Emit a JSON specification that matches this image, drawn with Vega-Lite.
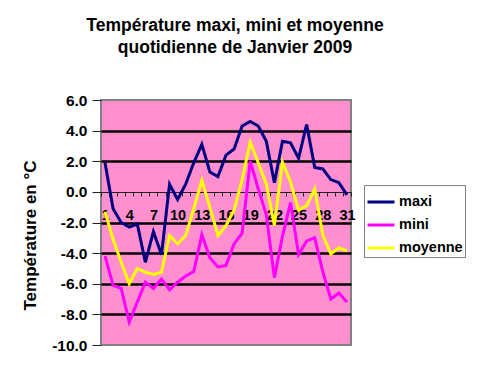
{
  "$schema": "https://vega.github.io/schema/vega-lite/v6.json",
  "width": 250,
  "height": 245,
  "autosize": {"type": "none"},
  "padding": {"left": 101, "top": 100, "right": 133, "bottom": 30},
  "background": "white",
  "title": {
    "text": ["Température maxi, mini et moyenne", "quotidienne de Janvier 2009"],
    "fontSize": 17.5,
    "fontWeight": "bold",
    "font": "Liberation Sans",
    "color": "black",
    "lineHeight": 22,
    "anchor": "middle",
    "dx": 9,
    "offset": 37
  },
  "config": {
    "font": "Liberation Sans",
    "view": {"fill": "#FF8FCF", "stroke": "#808080", "strokeWidth": 2}
  },
  "data": {
    "values": [
      {"day": 1, "maxi": 1.9, "mini": -4.2, "moyenne": -1.3},
      {"day": 2, "maxi": -1.1, "mini": -6.1, "moyenne": -3.1},
      {"day": 3, "maxi": -2.0, "mini": -6.3, "moyenne": -4.6},
      {"day": 4, "maxi": -2.3, "mini": -8.5, "moyenne": -6.0},
      {"day": 5, "maxi": -2.1, "mini": -7.2, "moyenne": -5.0},
      {"day": 6, "maxi": -4.6, "mini": -5.9, "moyenne": -5.25},
      {"day": 7, "maxi": -2.6, "mini": -6.3, "moyenne": -5.4},
      {"day": 8, "maxi": -4.1, "mini": -5.7, "moyenne": -5.25},
      {"day": 9, "maxi": 0.5, "mini": -6.4, "moyenne": -2.85},
      {"day": 10, "maxi": -0.5, "mini": -5.9, "moyenne": -3.4},
      {"day": 11, "maxi": 0.5, "mini": -5.5, "moyenne": -2.85},
      {"day": 12, "maxi": 1.9, "mini": -5.2, "moyenne": -1.1},
      {"day": 13, "maxi": 3.1, "mini": -2.8, "moyenne": 0.75},
      {"day": 14, "maxi": 1.3, "mini": -4.3, "moyenne": -1.0},
      {"day": 15, "maxi": 1.0, "mini": -4.9, "moyenne": -2.85},
      {"day": 16, "maxi": 2.4, "mini": -4.8, "moyenne": -2.2},
      {"day": 17, "maxi": 2.8, "mini": -3.4, "moyenne": -1.2},
      {"day": 18, "maxi": 4.3, "mini": -2.7, "moyenne": 0.8},
      {"day": 19, "maxi": 4.6, "mini": 2.0, "moyenne": 3.25},
      {"day": 20, "maxi": 4.3, "mini": 0.2, "moyenne": 1.9},
      {"day": 21, "maxi": 3.3, "mini": -1.5, "moyenne": 0.5},
      {"day": 22, "maxi": 0.6, "mini": -5.6, "moyenne": -2.2},
      {"day": 23, "maxi": 3.3, "mini": -2.9, "moyenne": 1.95},
      {"day": 24, "maxi": 3.2, "mini": -0.7, "moyenne": 0.65},
      {"day": 25, "maxi": 2.2, "mini": -4.1, "moyenne": -1.2},
      {"day": 26, "maxi": 4.4, "mini": -3.2, "moyenne": -0.9},
      {"day": 27, "maxi": 1.6, "mini": -3.0, "moyenne": 0.2},
      {"day": 28, "maxi": 1.5, "mini": -5.2, "moyenne": -2.8},
      {"day": 29, "maxi": 0.8, "mini": -7.0, "moyenne": -4.05},
      {"day": 30, "maxi": 0.6, "mini": -6.6, "moyenne": -3.65},
      {"day": 31, "maxi": -0.2, "mini": -7.2, "moyenne": -3.85}
    ]
  },
  "transform": [
    {"fold": ["maxi", "mini", "moyenne"], "as": ["serie", "temp"]}
  ],
  "mark": {"type": "line", "strokeWidth": 3},
  "encoding": {
    "x": {
      "field": "day",
      "type": "ordinal",
      "scale": {"type": "band", "paddingInner": 0, "paddingOuter": 0},
      "axis": {
        "title": null,
        "orient": "bottom",
        "offset": -153,
        "labelAngle": 0,
        "labelExpr": "(datum.value - 1) % 3 === 0 ? datum.label : ''",
        "tickBand": "extent",
        "tickSize": 4,
        "tickColor": "#222",
        "domainColor": "#222",
        "domainWidth": 1,
        "labelFont": "Liberation Sans",
        "labelFontSize": 14.5,
        "labelFontWeight": "bold",
        "labelColor": "black",
        "labelPadding": 12,
        "grid": false
      }
    },
    "y": {
      "field": "temp",
      "type": "quantitative",
      "scale": {"domain": [-10, 6], "nice": false, "zero": false},
      "axis": {
        "title": "Température en °C",
        "titleFont": "Liberation Sans",
        "titleFontSize": 17,
        "titleFontWeight": "bold",
        "titleColor": "black",
        "titlePadding": 12,
        "titleY": 135,
        "values": [-10, -8, -6, -4, -2, 0, 2, 4, 6],
        "labelExpr": "replace(format(datum.value, '.1f'), '\u2212', '-')",
        "labelFont": "Liberation Sans",
        "labelFontSize": 15.5,
        "labelFontWeight": "bold",
        "labelColor": "black",
        "labelPadding": 5,
        "tickSize": 9,
        "tickColor": "#222",
        "domain": false,
        "grid": true,
        "gridColor": "black",
        "gridOpacity": 1,
        "gridWidth": {"condition": {"test": "datum.value === 0 || datum.value === 6 || datum.value === -10", "value": 0}, "value": 2.5}
      }
    },
    "color": {
      "field": "serie",
      "type": "nominal",
      "scale": {"domain": ["maxi", "mini", "moyenne"], "range": ["#000080", "#FF00FF", "#FFFF00"]},
      "legend": {
        "title": null,
        "orient": "none",
        "legendX": 263,
        "legendY": 85,
        "symbolType": "stroke",
        "symbolStrokeWidth": 3,
        "symbolSize": 729,
        "labelFont": "Liberation Sans",
        "labelFontSize": 14.5,
        "labelFontWeight": "bold",
        "labelColor": "black",
        "labelOffset": 3,
        "padding": 2,
        "rowPadding": 1,
        "strokeColor": "#808080",
        "fillColor": "white"
      }
    }
  }
}
